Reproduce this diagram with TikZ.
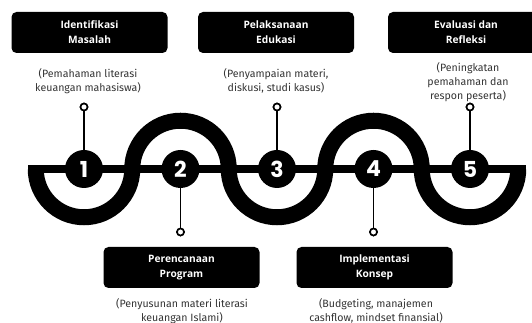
\documentclass[tikz,border=0pt]{standalone}
\usepackage{fontspec}
\newfontfamily\titlefont{Open Sans}
\newfontfamily\subfont{Fira Sans}
\newfontfamily\numfont{Poppins}
\begin{document}
\begin{tikzpicture}[x=1pt,y=1pt,
  titlebox/.style={fill=black,rounded corners=5pt,minimum width=156pt,minimum height=41pt,inner sep=0pt,
     text=white,align=center,font=\titlefont\bfseries\fontsize{10.2}{15}\selectfont},
  subtext/.style={align=center,text=black!80,inner sep=0pt,font=\subfont\fontsize{10.6}{14}\selectfont},
  numcirc/.style={circle,fill=black,minimum size=38pt,inner sep=0pt,text=white,font=\numfont\bfseries\fontsize{22}{22}\selectfont},
  pinhead/.style={circle,draw=black,fill=white,line width=1.6pt,minimum size=7pt,inner sep=0pt},
  pinline/.style={line width=1.8pt},
  wave/.style={line width=16pt},
  bar/.style={line width=8pt}]
\useasboundingbox (0,0) rectangle (532,323);
\clip (0,0) rectangle (532,323);
% wave
\draw[wave] (35.75,154) arc(180:360:48.25) arc(180:0:48.25) arc(180:360:48.25) arc(180:0:48.25) arc(180:360:48.25);
\coordinate (l0) at (28,154);
\coordinate (l1) at (526,154);
\draw[bar] (l0) -- (l1);
% pin heads
\node[pinhead] (p1) at (84,216) {};
\node[pinhead] (p3) at (277,216) {};
\node[pinhead] (p5) at (470,216) {};
\node[pinhead] (p2) at (180.5,91) {};
\node[pinhead] (p4) at (373.5,91) {};
% number circles
\node[numcirc] (n1) at (84,154) {1};
\node[numcirc] (n2) at (180.5,154) {2};
\node[numcirc] (n3) at (277,154) {3};
\node[numcirc] (n4) at (373.5,154) {4};
\node[numcirc] (n5) at (470,154) {5};
\foreach \i in {1,...,5} {\draw[pinline] (n\i) -- (p\i);}
% redraw pin heads on top
\foreach \i/\x/\y in {1/84/216,3/277/216,5/470/216,2/180.5/91,4/373.5/91} {\node[pinhead] at (\x,\y) {};}
% boxes
\node[titlebox] (b1) at (89.5,290.5) {Identifikasi\\Masalah};
\node[titlebox] (b3) at (276,290.5) {Pelaksanaan\\Edukasi};
\node[titlebox] (b5) at (466,290.5) {Evaluasi dan\\Refleksi};
\node[titlebox] (b2) at (181.5,55.5) {Perencanaan\\Program};
\node[titlebox] (b4) at (374.5,55.5) {Implementasi\\Konsep};
% sub texts
\node[subtext] (t1) at (88,242) {(Pemahaman literasi\\keuangan mahasiswa)};
\node[subtext] (t3) at (276,242) {(Penyampaian materi,\\diskusi, studi kasus)};
\node[subtext] (t5) at (468,241) {(Peningkatan\\pemahaman dan\\respon peserta)};
\node[subtext] (t2) at (182,12) {(Penyusunan materi literasi\\keuangan Islami)};
\node[subtext] (t4) at (376,12) {(Budgeting, manajemen\\cashflow, mindset finansial)};
\end{tikzpicture}
\end{document}
